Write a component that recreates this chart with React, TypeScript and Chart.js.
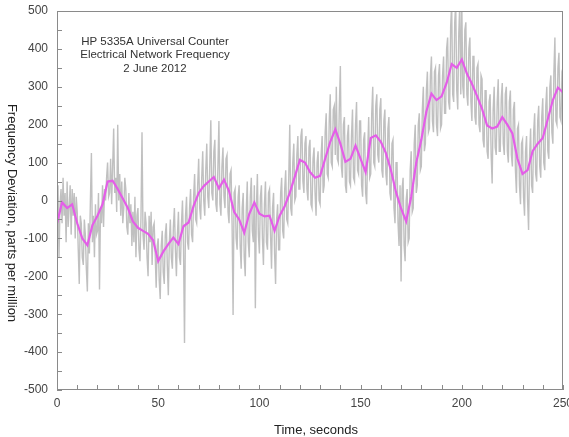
import React, { useEffect, useRef } from 'react';
import { Chart, registerables } from 'chart.js';

Chart.register(...registerables);

// Raw counter readings, two per second (t = 0 .. 250 s)
const GRAY_STEP = 0.5;
const grayValues = [
  -90, 40, -150, -10, 30, -60, 60, -40, 20, -110, 50, -70, -20, 40, -90, 30, -40, 20, -100, 10,
  -30, -130, -220, -40, -60, -150, -170, -50, -90, -180, -240, -60, -140, 0, 125, -110, -40, -150, -10, -90,
  -80, 20, -235, -20, -60, 40, -70, 30, 0, 60, 100, 10, 20, 110, -10, 90, 190, 20, 60, -30,
  200, 0, 70, -40, 50, -60, -20, 60, 30, -70, -90, 20, -60, -10, -120, -30, -110, 10, -150, -40,
  -20, -130, -160, -40, 180, -90, -130, -30, -60, -150, -200, -40, -110, -30, -170, -70, -60, -140, -230, -120,
  -100, -210, -260, -120, -80, -190, -220, -90, -60, -170, -250, -110, -50, -150, -180, -70, -20, -130, -200, -90,
  -30, -150, -170, -60, 0, -120, -376, -40, 10, -110, -130, -20, 30, -90, -110, 10, 70, -50, -60, 40,
  110, -20, -50, 60, 130, 0, -40, 80, 150, 10, -20, 100, 212, 20, 0, 130, 160, -10, -30, 90,
  210, -10, -40, 90, 140, 10, -20, 110, 120, -30, -60, 70, 80, -60, -302, 20, 30, -100, -130, 10,
  40, -120, -180, -20, 20, -150, -200, -30, 50, -110, -150, 10, 60, -80, -110, 40, -284, -20, 70, -90,
  -140, 10, 40, -100, -170, -10, 50, -110, -130, 20, 30, -90, -180, -20, 20, -140, -220, -50, -10, -130,
  -130, 20, 60, -80, -100, 30, 80, -50, -60, 60, 200, -20, -40, 100, 150, 0, 10, 120, 170, 30,
  30, 170, 190, 50, 20, 150, 170, 30, 0, 140, 160, -10, -20, 110, 140, 20, -40, 100, 130, 0,
  -10, 120, 170, 20, 40, 180, 230, 70, 60, 210, 280, 100, 90, 240, 250, 120, 300, 110, 100, 250,
  355, 90, 60, 200, 220, 40, 20, 170, 200, 50, 40, 170, 240, 60, 50, 200, 260, 80, 70, 210,
  210, 40, 10, 160, 180, 20, -10, 130, 220, 60, 70, 230, 300, 100, 90, 250, 280, 120, 100, 240,
  270, 80, 60, 210, 240, 70, 40, 190, 220, 20, 0, 150, 160, -20, -60, 100, 100, -60, -120, 40,
  -214, 30, 60, -120, -160, 0, 30, -110, -100, 80, 130, -30, -20, 150, 200, 20, 40, 200, 230, 80,
  90, 240, 300, 130, 150, 290, 340, 180, 190, 330, 380, 210, 180, 340, 350, 200, 170, 330, 360, 190,
  200, 330, 380, 230, 230, 400, 430, 260, 240, 460, 520, 280, 260, 470, 520, 290, 240, 440, 520, 280,
  520, 300, 270, 450, 470, 280, 250, 400, 430, 260, 210, 380, 380, 220, 200, 350, 360, 200, 180, 330,
  320, 160, 140, 290, 290, 130, 110, 260, 280, 120, 45, 240, 300, 140, 120, 260, 320, 130, 130, 270,
  310, 150, 120, 280, 300, 130, 100, 260, 290, 120, 90, 240, 260, 80, 20, 190, 200, 40, -10, 150,
  160, 10, -40, 130, 170, 0, -78, 120, 190, 40, 20, 180, 230, 70, 50, 210, 250, 90, 60, 220,
  270, 100, 80, 250, 300, 130, 110, 300, 330, 180, 150, 340, 430, 210, 200, 350, 390, 220, 210, 340,
  350,
];

// Smoothed (moving average) curve, one value every 2.5 s
const SMOOTH_STEP = 2.5;
const smoothValues = [
  -60, -5, -20, -10, -60, -100, -118, -65, -40, -10,
  50, 52, 30, 5, -20, -55, -72, -80, -88, -105,
  -160, -135, -115, -98, -115, -68, -58, -14, 20, 38,
  50, 62, 32, 55, 25, -30, -50, -85, -35, -5,
  -35, -42, -40, -80, -40, -15, 20, 63, 107, 100,
  75, 60, 65, 110, 155, 188, 150, 102, 110, 145,
  110, 75, 165, 172, 155, 125, 80, 22, -21, -55,
  10, 100, 160, 235, 282, 265, 275, 310, 360, 350,
  372, 335, 308, 276, 242, 198, 190, 195, 220, 200,
  177, 110, 70, 80, 130, 150, 165, 215, 265, 298,
  285,
];

const titleLines = ['HP 5335A Universal Counter', 'Electrical Network Frequency', '2 June 2012'];
const xTitle = 'Time, seconds';
const yTitle = 'Frequency Deviation, parts per million';

const X_MIN = 0;
const X_MAX = 250;
const X_LABEL_STEP = 50;
const X_MINOR_STEP = 10;
const Y_MIN = -500;
const Y_MAX = 500;
const Y_LABEL_STEP = 100;
const Y_MINOR_STEP = 50;

export default function App() {
  const ref = useRef<HTMLCanvasElement>(null);

  useEffect(() => {
    const prevMargin = document.body.style.margin;
    document.body.style.margin = '0';
    const font = '"Liberation Sans", Arial, Helvetica, sans-serif';

    const decor = {
      id: 'decor',
      afterDraw(chart: any) {
        const { ctx, chartArea: a, scales } = chart;
        const xs = scales.x;
        const ys = scales.y;
        ctx.save();
        ctx.strokeStyle = '#8a8a8a';
        ctx.lineWidth = 1;
        ctx.strokeRect(a.left + 0.5, a.top + 0.5, a.right - a.left - 1, a.bottom - a.top - 1);
        ctx.beginPath();
        for (let v = X_MIN; v <= X_MAX; v += X_MINOR_STEP) {
          const px = Math.round(xs.getPixelForValue(v)) + 0.5;
          ctx.moveTo(px, a.bottom);
          ctx.lineTo(px, a.bottom - 5);
        }
        for (let v = Y_MIN; v <= Y_MAX; v += Y_MINOR_STEP) {
          const py = Math.round(ys.getPixelForValue(v)) + 0.5;
          ctx.moveTo(a.left, py);
          ctx.lineTo(a.left + 5, py);
        }
        ctx.stroke();
        ctx.fillStyle = '#333';
        ctx.font = `11.5px ${font}`;
        ctx.textAlign = 'center';
        ctx.textBaseline = 'middle';
        titleLines.forEach((line, i) => {
          ctx.fillText(line, 155, 42 + i * 13.3);
        });
        ctx.font = `13px ${font}`;
        ctx.fillStyle = '#222';
        ctx.fillText(xTitle, (a.left + a.right) / 2 + 6, 430);
        ctx.translate(12, 213);
        ctx.rotate(Math.PI / 2);
        ctx.fillText(yTitle, 0, 0);
        ctx.restore();
      },
    };

    const grayData = grayValues.map((v, i) => ({ x: i * GRAY_STEP, y: v }));
    const smoothData = smoothValues.map((v, i) => ({ x: i * SMOOTH_STEP, y: v }));

    const zeroPad = (s: any) => {
      s.paddingLeft = 0;
      s.paddingRight = 0;
      s.paddingTop = 0;
      s.paddingBottom = 0;
    };

    const chart = new Chart(ref.current as HTMLCanvasElement, {
      type: 'line',
      data: {
        datasets: [
          {
            data: smoothData,
            borderColor: '#e45ee8',
            borderWidth: 2.2,
            pointRadius: 0,
            tension: 0,
            order: 0,
          },
          {
            data: grayData,
            borderColor: 'rgba(165,165,165,0.7)',
            borderWidth: 1.4,
            pointRadius: 0,
            tension: 0,
            order: 1,
          },
        ],
      },
      options: {
        animation: false,
        responsive: false,
        maintainAspectRatio: false,
        layout: { padding: { top: 11, right: 6, left: 0, bottom: 0 } },
        plugins: { legend: { display: false }, tooltip: { enabled: false } },
        scales: {
          x: {
            type: 'linear',
            min: X_MIN,
            max: X_MAX,
            grid: { display: false, drawTicks: false },
            border: { display: false },
            ticks: {
              stepSize: X_LABEL_STEP,
              padding: 6,
              color: '#444',
              font: { family: font, size: 12 },
              maxRotation: 0,
            },
            afterFit: (s: any) => {
              s.height = 47;
              zeroPad(s);
            },
          },
          y: {
            type: 'linear',
            min: Y_MIN,
            max: Y_MAX,
            grid: { display: false, drawTicks: false },
            border: { display: false },
            ticks: {
              stepSize: Y_LABEL_STEP,
              padding: 9,
              color: '#444',
              font: { family: font, size: 12 },
            },
            afterFit: (s: any) => {
              s.width = 57;
              zeroPad(s);
            },
          },
        },
      },
      plugins: [decor],
    });

    return () => {
      chart.destroy();
      document.body.style.margin = prevMargin;
    };
  }, []);

  return (
    <div style={{ width: 569, height: 437, position: 'relative' }}>
      <canvas ref={ref} width={569} height={437} style={{ display: 'block' }} />
    </div>
  );
}
